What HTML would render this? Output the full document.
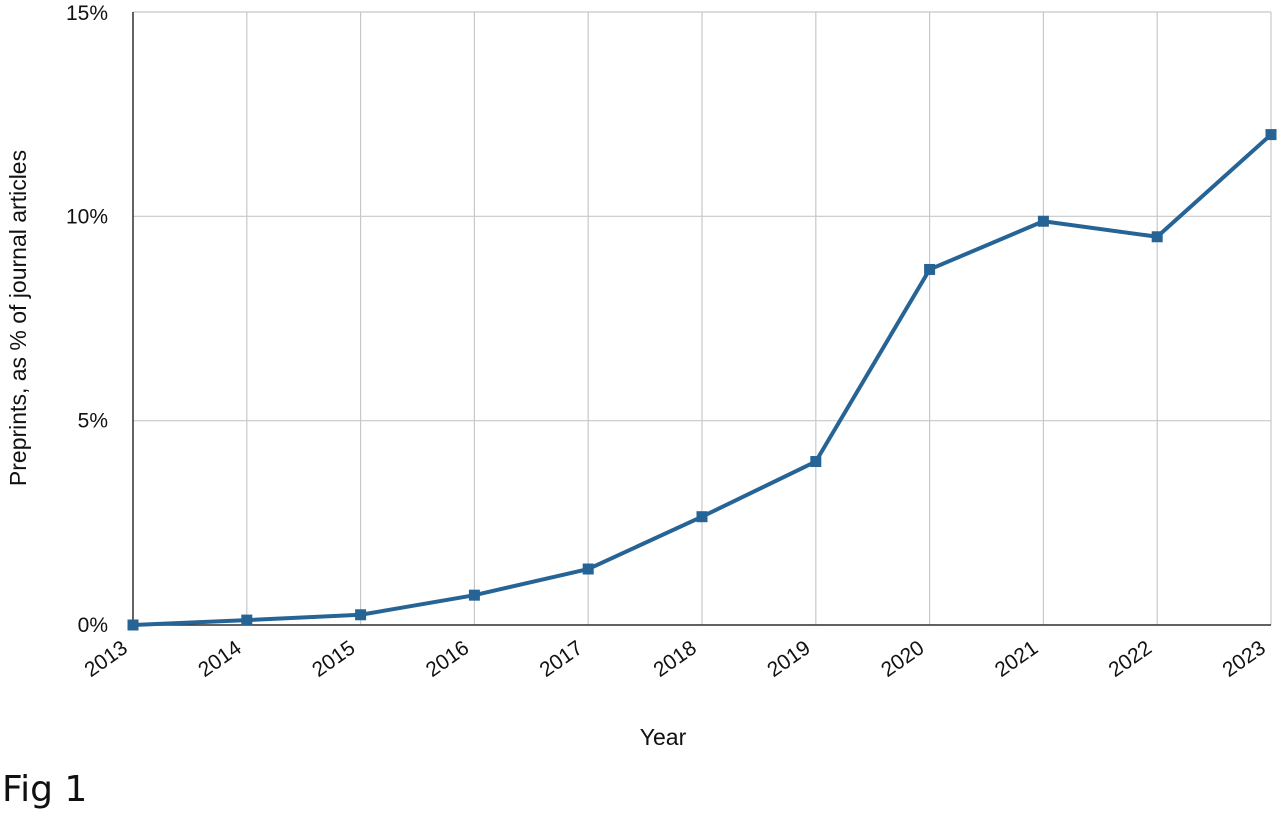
<!DOCTYPE html>
<html><head><meta charset="utf-8"><style>
body{margin:0;background:#fff;width:1280px;height:813px;overflow:hidden}
svg{font-family:"Liberation Sans",Arial,sans-serif}
</style></head><body>
<svg width="1280" height="813">
<g id="grid"></g><g id="axes"></g><g id="series"></g>
<text x="663" y="745" font-size="23" text-anchor="middle" fill="#111">Year</text>
<text transform="translate(26,318) rotate(-90)" font-size="23" text-anchor="middle" fill="#111">Preprints, as % of journal articles</text>
<text x="2" y="801" font-size="36" fill="#111" style="font-family:'DejaVu Sans',sans-serif">Fig 1</text>
</svg>
<script>
const years=["2013","2014","2015","2016","2017","2018","2019","2020","2021","2022","2023"];
const values=[0,0.12,0.25,0.73,1.37,2.65,4.0,8.7,9.88,9.5,12.0];
const yTicks=[0,5,10,15];
const yTickLabels=["0%","5%","10%","15%"];
const NS="http://www.w3.org/2000/svg";
const x0=133,x1=1271,yb=625,yt=12;
const xs=i=>x0+(x1-x0)*i/(years.length-1);
const ys=v=>yb-(yb-yt)*v/15;
function mk(t,a,p){const e=document.createElementNS(NS,t);for(const k in a)e.setAttribute(k,a[k]);p.appendChild(e);return e;}
const grid=document.getElementById('grid'),axes=document.getElementById('axes'),ser=document.getElementById('series');
years.forEach((y,i)=>{
 const l=mk('line',{x1:xs(i),x2:xs(i),y1:yt,y2:yb,stroke:'#c8c8c8','stroke-width':1.2},grid);
 
 
 const tx=xs(i)-4,ty=yb+26;
 const t=mk('text',{x:tx,y:ty,'font-size':21,'text-anchor':'end',fill:'#111',transform:`rotate(-35 ${tx} ${ty})`},axes);
 t.textContent=y;
 
 
});
yTicks.forEach((v,i)=>{
 const l=mk('line',{x1:x0,x2:x1,y1:ys(v),y2:ys(v),stroke:'#c8c8c8','stroke-width':1.2},grid);
 
 
 const t=mk('text',{x:108,y:ys(v)+(v===15?8:7),'font-size':21,'text-anchor':'end',fill:'#111'},axes);
 t.textContent=yTickLabels[i];
 
 
});
const ya=mk('line',{x1:x0,x2:x0,y1:yt,y2:yb,stroke:'#333','stroke-width':1.5},axes);


const xa=mk('line',{x1:x0,x2:x1,y1:yb,y2:yb,stroke:'#333','stroke-width':1.5},axes);


const pl=mk('polyline',{points:values.map((v,i)=>xs(i)+','+ys(v)).join(' '),fill:'none',stroke:'#276496','stroke-width':4,'stroke-linejoin':'round'},ser);


values.forEach((v,i)=>{
 const r=mk('rect',{x:xs(i)-5.5,y:ys(v)-5.5,width:11,height:11,fill:'#276496'},ser);
 
 
});
</script>
</body></html>
